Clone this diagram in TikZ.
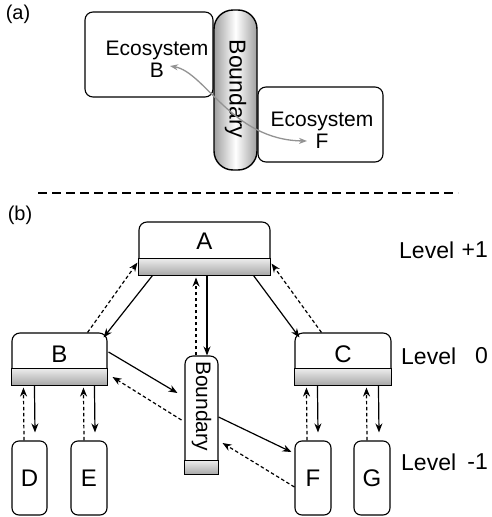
\documentclass[tikz,border=0pt]{standalone}
\usepackage{fontspec}
\setmainfont{Liberation Sans}
\usetikzlibrary{calc,arrows.meta}
\begin{document}
\begin{tikzpicture}[x=1pt,y=-1pt,
  box/.style={draw, line width=1.1pt, rounded corners=8pt, fill=white, inner sep=0pt},
  band/.style={draw, line width=1.1pt, top color=gray!15, bottom color=gray!70},
  arr/.style={line width=1.2pt, -{Stealth[length=9pt,width=7pt]}},
  darr/.style={arr, dash pattern=on 3.5pt off 2.5pt},
  lbl/.style={font=\fontsize{24}{28}\selectfont, inner sep=0pt},
  txt/.style={font=\fontsize{21}{22}\selectfont, inner sep=0pt, align=center},
  levw/.style={font=\fontsize{23}{26}\selectfont, inner sep=0pt, anchor=west},
  leve/.style={font=\fontsize{23}{26}\selectfont, inner sep=0pt, anchor=east},
  tag/.style={font=\fontsize{20}{24}\selectfont, inner sep=0pt}
]
\useasboundingbox (0,0) rectangle (491,517);

% ---------- (a) ----------
\node[tag] (ta) at (18,14) {(a)};
\node[box, minimum width=128pt, minimum height=85pt] (EB) at (149,54.5) {};
\node[box, minimum width=125pt, minimum height=75pt] (EF) at (320.5,124.5) {};
\node[draw, line width=1.4pt, rounded corners=19pt, inner sep=0pt,
      minimum width=43pt, minimum height=160pt,
      left color=gray!75, right color=gray!75, middle color=white] (BDa) at (235.5,90) {};
\node[rotate=-90, font=\fontsize{23}{26}\selectfont, inner sep=0pt] (BDat) at (235.5,89) {Boundary};
\node[txt] (EBt) at (157,59) {Ecosystem\\B};
\node[txt] (EFt) at (322,130) {Ecosystem\\F};
\coordinate (pb) at (170,66);
\coordinate (pf) at (307,141);
\draw[gray!85, line width=1.3pt, {Stealth[length=8pt,width=6pt]}-{Stealth[length=8pt,width=6pt]}]
  (pb) .. controls (205,72) and (232,140) .. (pf);

% separator
\coordinate (s1) at (38,193);
\coordinate (s2) at (458,193);
\draw[line width=1.4pt, dash pattern=on 9pt off 5pt] (s1) -- (s2);

% ---------- (b) ----------
\node[tag] (tb) at (20,215) {(b)};

\node[box, minimum width=131pt, minimum height=53pt] (A) at (204.5,248.5) {};
\draw[band] (A.south west) rectangle ($(A.south east)+(0,-17)$);
\node[lbl] (At) at ($(A.north)+(0,20)$) {A};

\node[box, minimum width=95pt, minimum height=52pt] (B) at (59.5,359) {};
\draw[band] (B.south west) rectangle ($(B.south east)+(0,-17)$);
\node[lbl] (Bt) at ($(B.north)+(0,22)$) {B};

\node[box, minimum width=96pt, minimum height=52pt] (C) at (343,359) {};
\draw[band] (C.south west) rectangle ($(C.south east)+(0,-17)$);
\node[lbl] (Ct) at ($(C.north)+(0,22)$) {C};

\node[box, minimum width=33pt, minimum height=118pt] (Bd) at (201.5,415) {};
\draw[band] (Bd.south west) rectangle ($(Bd.south east)+(0,-14)$);
\node[rotate=-90, txt] (Bdt) at (201.5,406) {Boundary};

\node[box, rounded corners=7pt, minimum width=35pt, minimum height=74pt] (D) at (29.5,478) {};
\node[lbl] (Dt) at (D) {D};
\node[box, rounded corners=7pt, minimum width=36pt, minimum height=74pt] (E) at (89,478) {};
\node[lbl] (Et) at (E) {E};
\node[box, rounded corners=7pt, minimum width=36pt, minimum height=74pt] (F) at (313,478) {};
\node[lbl] (Ft) at (F) {F};
\node[box, rounded corners=7pt, minimum width=36pt, minimum height=74pt] (G) at (372,478) {};
\node[lbl] (Gt) at (G) {G};

\node[levw] (L1) at (399,250) {Level};
\node[leve] (L1n) at (488,250) {+1};
\node[levw] (L0) at (401,356) {Level};
\node[leve] (L0n) at (488,356) {0};
\node[levw] (Lm) at (401,462) {Level};
\node[leve] (Lmn) at (488,462) {-1};

% A <-> B
\draw[arr] ($(A.south west)+(14,0)$) -- ($(B.north east)+(-4,5)$);
\draw[darr] ($(B.north east)+(-20,0)$) -- ($(A.south west)+(-1,-13)$);
% A <-> Boundary
\draw[arr] ($(A.south)+(2.5,0)$) -- ($(Bd.north)+(5.5,0)$);
\draw[darr] ($(Bd.north)+(-5.5,0)$) -- ($(A.south)+(-8.5,2)$);
% A <-> C
\draw[arr] ($(A.south east)+(-17,0)$) -- ($(C.north west)+(5,5)$);
\draw[darr] ($(C.north west)+(27,0)$) -- ($(A.south east)+(1,-12)$);
% B -> Boundary -> F
\draw[arr] ($(B.east)+(1,-7)$) -- ($(Bd.west)+(-7,-22)$);
\draw[arr] ($(Bd.east)+(0,2)$) -- ($(F.west)+(-3,-26)$);
% F -> Boundary -> B
\draw[darr] ($(F.west)+(0,9)$) -- ($(Bd.east)+(4,28)$);
\draw[darr] ($(Bd.west)+(-3,5)$) -- ($(B.east)+(5,18)$);
% B <-> D, E
\draw[arr] ($(B.south west)+(23,0)$) -- ($(D.north)+(5.5,-8)$);
\draw[darr] ($(D.north)+(-5.5,0)$) -- ($(B.south west)+(12,2)$);
\draw[arr] ($(B.south west)+(83,0)$) -- ($(E.north)+(6,-8)$);
\draw[darr] ($(E.north)+(-5,0)$) -- ($(B.south west)+(72,2)$);
% C <-> F, G
\draw[arr] ($(C.south west)+(23,0)$) -- ($(F.north)+(5,-8)$);
\draw[darr] ($(F.north)+(-6,0)$) -- ($(C.south west)+(12,2)$);
\draw[arr] ($(C.south west)+(84,0)$) -- ($(G.north)+(7,-8)$);
\draw[darr] ($(G.north)+(-5,0)$) -- ($(C.south west)+(72,2)$);
\end{tikzpicture}
\end{document}
